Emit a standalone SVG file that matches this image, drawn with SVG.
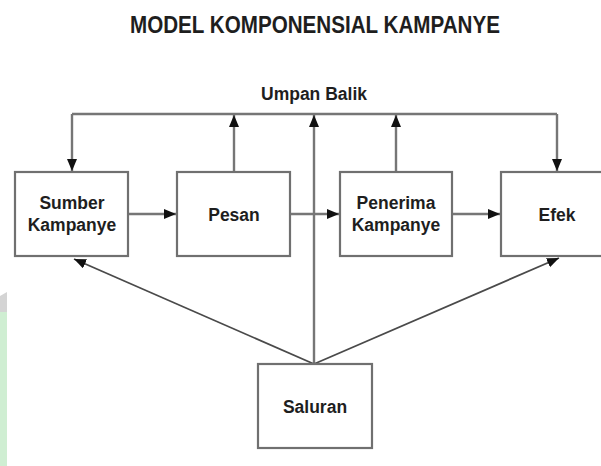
<svg xmlns="http://www.w3.org/2000/svg" width="601" height="466" viewBox="0 0 601 466">
<style>
.box{fill:#ffffff;stroke:#707070;stroke-width:2.2}
.ln{fill:none;stroke:#767676;stroke-width:2.4}
.dg{fill:none;stroke:#4a4a4a;stroke-width:1.8}
.t{font-family:"Liberation Sans",Arial,sans-serif;font-weight:bold;font-size:17.5px;fill:#1e1e1e;text-anchor:middle}
.title{font-family:"Liberation Sans",Arial,sans-serif;font-weight:bold;font-size:23px;fill:#1e1e1e;text-anchor:middle}
</style>
<defs>
<marker id="ah" markerUnits="userSpaceOnUse" markerWidth="13" markerHeight="11" refX="12" refY="5" orient="auto">
<path d="M0,0 L12,5 L0,10 z" fill="#111"/>
</marker>
</defs>
<rect width="601" height="466" fill="#ffffff"/>
<polygon points="0,296 7,292 7,312 0,314" fill="#d4d4d4"/>
<rect x="0" y="312" width="7" height="154" fill="#cfeed2"/>
<text class="title" x="315" y="33" textLength="370" lengthAdjust="spacingAndGlyphs">MODEL KOMPONENSIAL KAMPANYE</text>
<text class="t" x="314" y="100">Umpan Balik</text>
<g id="connectors">
<polyline class="ln" points="72,114 557,114"/>
<line class="ln" x1="72" y1="114" x2="72" y2="171" marker-end="url(#ah)"/>
<line class="ln" x1="557" y1="114" x2="557" y2="171" marker-end="url(#ah)"/>
<line class="ln" x1="234" y1="172" x2="234" y2="115" marker-end="url(#ah)"/>
<line class="ln" x1="314" y1="364" x2="314" y2="115" marker-end="url(#ah)"/>
<line class="ln" x1="396" y1="172" x2="396" y2="115" marker-end="url(#ah)"/>
<line class="ln" x1="128" y1="214" x2="176" y2="214" marker-end="url(#ah)"/>
<line class="ln" x1="290" y1="214" x2="339" y2="214" marker-end="url(#ah)"/>
<line class="ln" x1="452" y1="214" x2="500" y2="214" marker-end="url(#ah)"/>
<line class="dg" x1="314" y1="364" x2="74" y2="259" marker-end="url(#ah)"/>
<line class="dg" x1="314" y1="364" x2="559" y2="258" marker-end="url(#ah)"/>
</g>
<g id="sumber">
<rect class="box" x="15" y="172" width="113" height="84"/>
<text class="t" x="72" y="209">Sumber</text>
<text class="t" x="72" y="231">Kampanye</text>
</g>
<g id="pesan">
<rect class="box" x="177" y="172" width="113" height="84"/>
<text class="t" x="234" y="221">Pesan</text>
</g>
<g id="penerima">
<rect class="box" x="340" y="172" width="112" height="84"/>
<text class="t" x="396" y="209">Penerima</text>
<text class="t" x="396" y="231">Kampanye</text>
</g>
<g id="efek">
<rect class="box" x="501" y="172" width="113" height="84"/>
<text class="t" x="557" y="221">Efek</text>
</g>
<g id="saluran">
<rect class="box" x="258" y="364" width="114" height="84"/>
<text class="t" x="315" y="413">Saluran</text>
</g>
</svg>
